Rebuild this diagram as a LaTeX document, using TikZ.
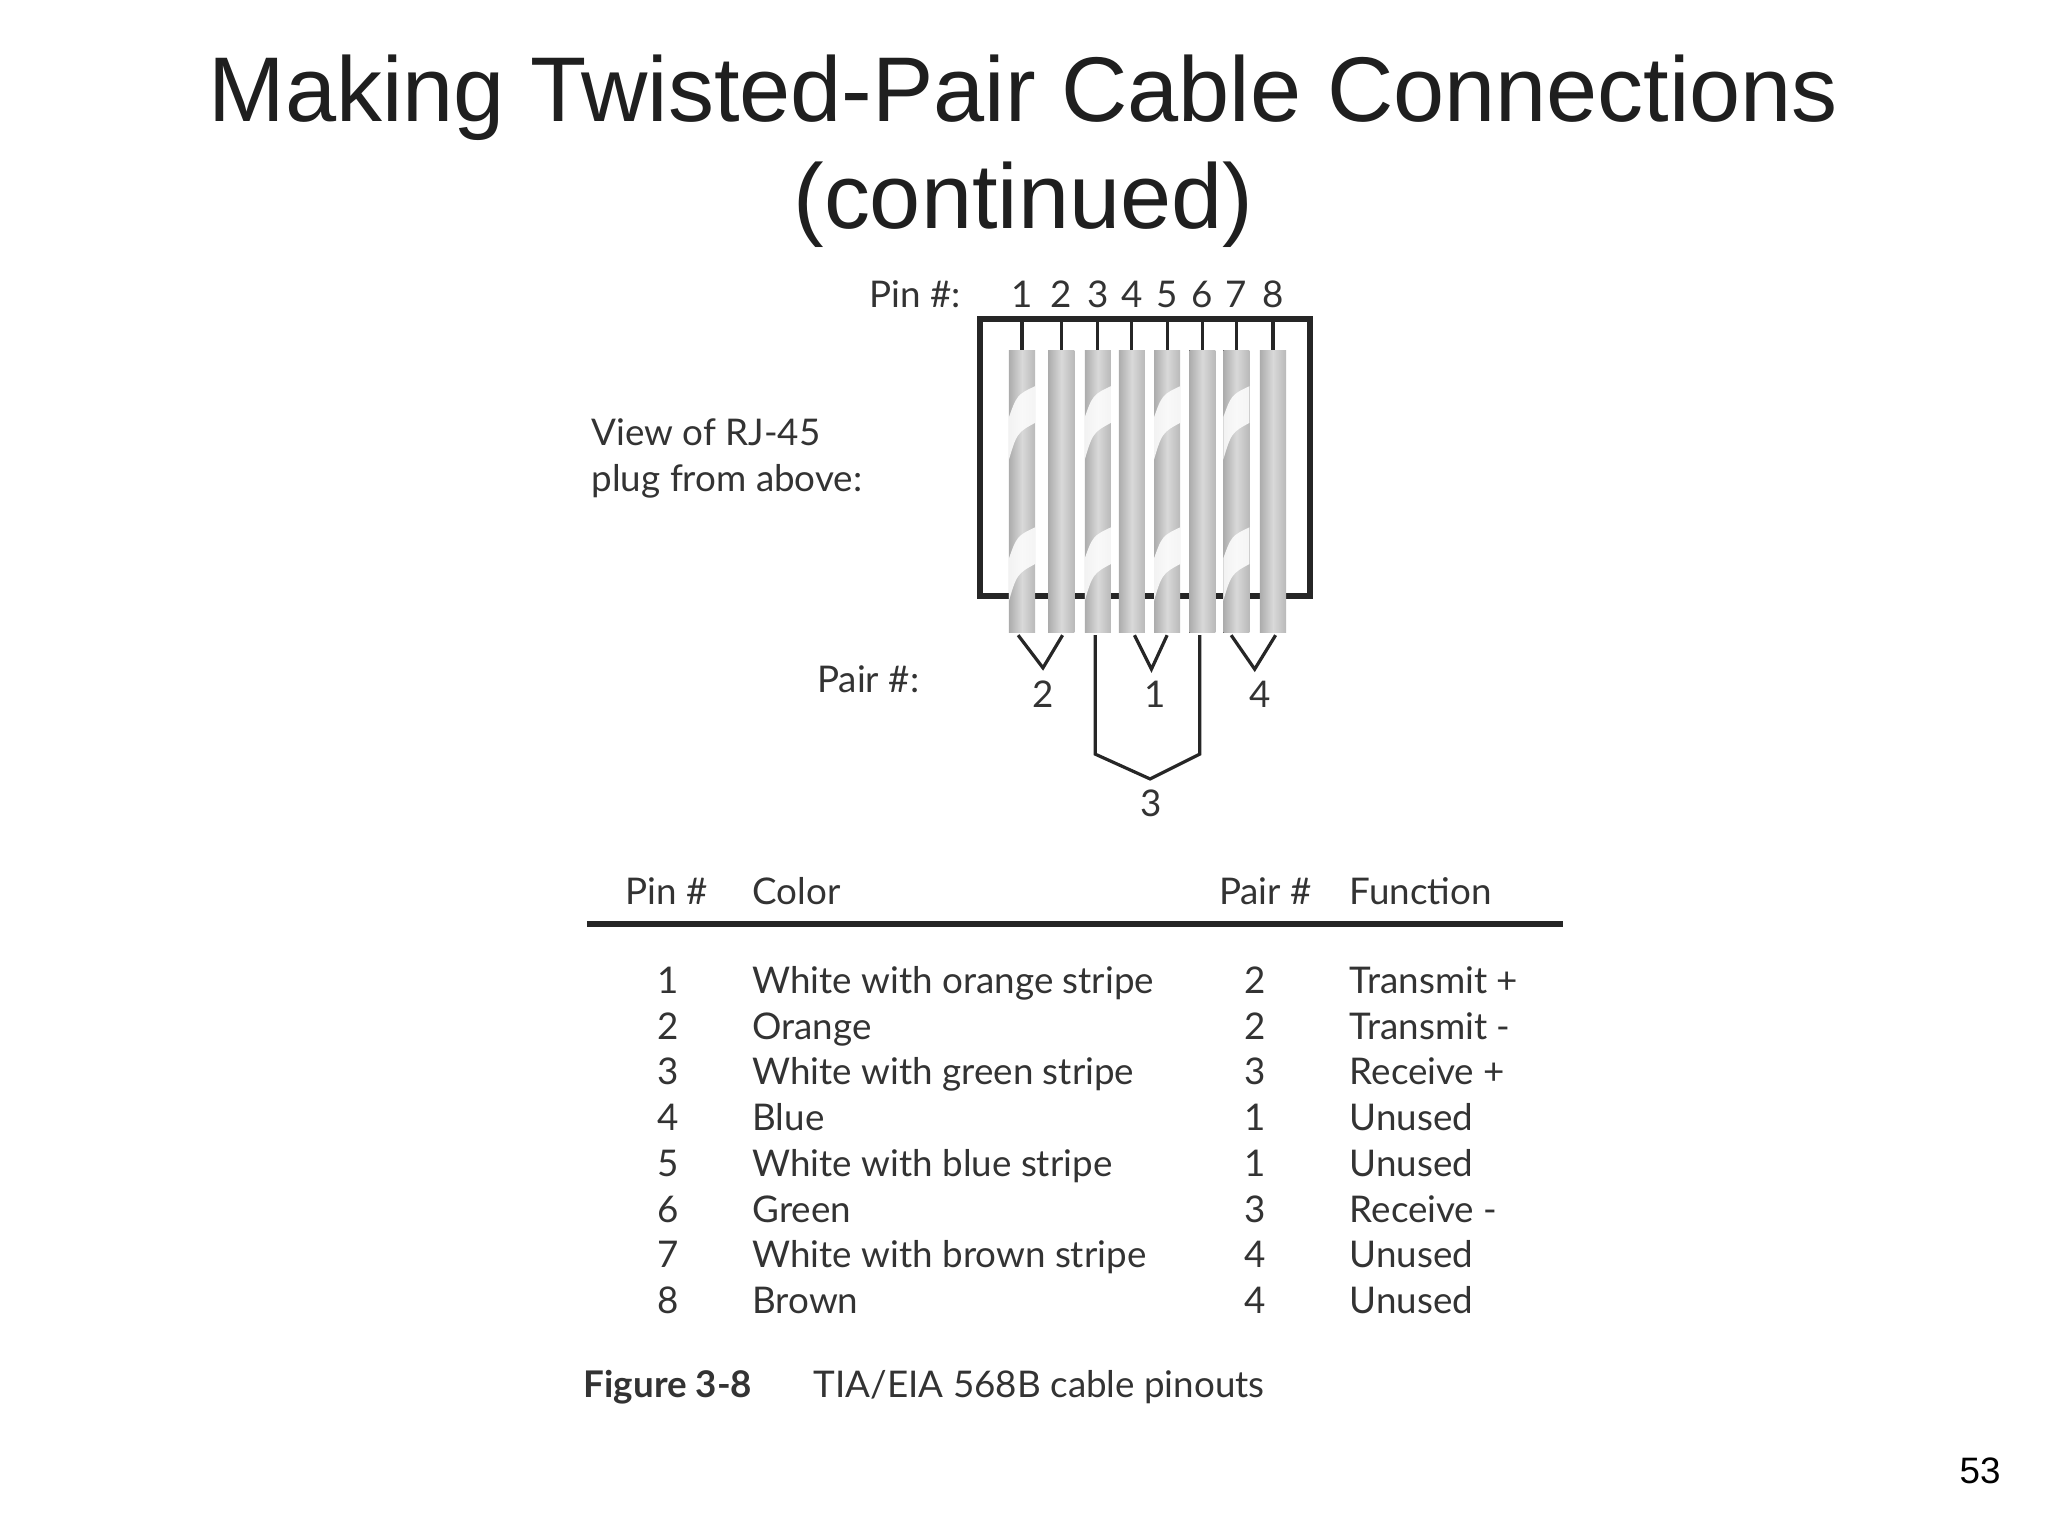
\documentclass[tikz,border=0pt]{standalone}
\usepackage{fontspec}
\setmainfont{Liberation Sans}
\newfontfamily\figfont{Lato}
\begin{document}
\begin{tikzpicture}[x=0.01cm,y=-0.01cm,
  ttl/.style={font=\fontsize{20}{23}\selectfont, text=black!88},
  ft/.style={font=\figfont\fontsize{8}{9}\selectfont, text=black!80, inner sep=0pt},
  ln/.style={line width=0.7pt, black!85},
  wire/.style={left color=gray!65, right color=gray!55, middle color=gray!30, draw=none}]
\useasboundingbox (0,0) rectangle (1567,1175);
\node[ttl] (t1) at (783,75) {Making Twisted-Pair Cable Connections};
\node[ttl] (t2) at (783,157) {(continued)};
% plug box
\draw[line width=1.3pt, black!85] (750,244) rectangle (1002,456);
\node[ft, anchor=east] (pinl) at (736,225) {Pin \#:};
\node[ft, anchor=west, align=left] (view) at (452,351) {View of RJ-45\\[1pt]plug from above:};
\node[ft, anchor=east] (pairl) at (704,520) {Pair \#:};
\foreach \i/\x in {1/782,2/812,3/840,4/866,5/893,6/920,7/946,8/974}{
  \node[ft] (p\i) at (\x,225) {\i};
  \draw[ln] (\x,244) -- (\x,268);
  \fill[wire] (\x-10,268) rectangle (\x+10,484);
}
\foreach \x in {782,840,893,946}{
  \begin{scope}
  \clip (\x-10,268) rectangle (\x+10,484);
  \fill[white,opacity=0.85] (\x-11,322) .. controls (\x-4,302) .. (\x+11,295) -- (\x+11,323) .. controls (\x-4,331) .. (\x-11,355) -- cycle;
  \fill[white,opacity=0.85] (\x-11,430) .. controls (\x-4,410) .. (\x+11,403) -- (\x+11,431) .. controls (\x-4,439) .. (\x-11,463) -- cycle;
  \end{scope}
}
% pairs
\node[ft] (q2) at (798,531) {2};
\node[ft] (q1) at (884,531) {1};
\node[ft] (q4) at (964,531) {4};
\node[ft] (q3) at (881,615) {3};
\coordinate (a1) at (779,486); \coordinate (a2) at (813,486);
\coordinate (a4) at (868,486); \coordinate (a5) at (893,486);
\coordinate (a7) at (942,486); \coordinate (a8) at (976,486);
\coordinate (a3) at (838,486); \coordinate (a6) at (918,486);
\coordinate (v2) at (798,511);
\coordinate (v1) at (881,512);
\coordinate (v4) at (960,512);
\coordinate (v3) at (880,596);
\draw[ln] (a1) -- (v2) -- (a2);
\draw[ln] (a4) -- (v1) -- (a5);
\draw[ln] (a7) -- (v4) -- (a8);
\draw[ln] (a3) -- (838,577) -- (v3) -- (918,577) -- (a6);
% table
\node[ft, anchor=west] (h1) at (478,682) {Pin \#};
\node[ft, anchor=west] (h2) at (575,682) {Color};
\node[ft, anchor=west] (h3) at (932,682) {Pair \#};
\node[ft, anchor=west] (h4) at (1032,682) {Function};
\draw[line width=1.2pt, black!85] (449,707) -- (1196,707);
\foreach \n/\c/\p/\f [count=\r from 0] in {1/White with orange stripe/2/Transmit +,2/Orange/2/Transmit -,3/White with green stripe/3/Receive +,4/Blue/1/Unused,5/White with blue stripe/1/Unused,6/Green/3/Receive -,7/White with brown stripe/4/Unused,8/Brown/4/Unused}{
  \node[ft, anchor=base] (n\r) at (511,760+35*\r) {\n};
  \node[ft, anchor=base west] (c\r) at (575,760+35*\r) {\c};
  \node[ft, anchor=base] (pp\r) at (960,760+35*\r) {\p};
  \node[ft, anchor=base west] (f\r) at (1032,760+35*\r) {\f};
}
\node[ft, anchor=west] (cap1) at (446,1061) {\bfseries Figure 3-8};
\node[ft, anchor=west] (cap2) at (622,1061) {TIA/EIA 568B cable pinouts};
\node[font=\fontsize{8}{9}\selectfont] (pg) at (1515,1125) {53};
\end{tikzpicture}
\end{document}
